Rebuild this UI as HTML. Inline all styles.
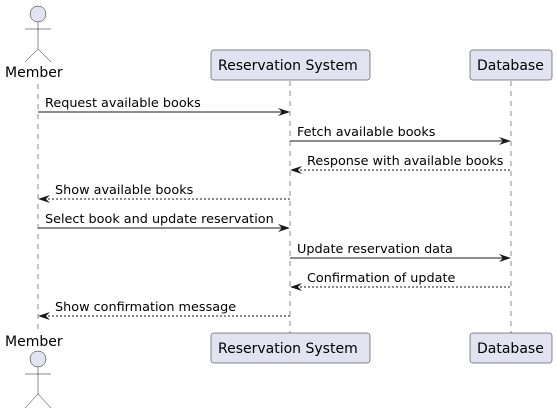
<!DOCTYPE html>
<html><head><style>body{margin:0;background:#fff}</style></head><body>
<svg width="557" height="414" xmlns="http://www.w3.org/2000/svg" font-family="'DejaVu Sans', 'Liberation Sans', sans-serif" font-size="12.8">
<g stroke="#181818" stroke-width="0.5" stroke-dasharray="5,5">
<line x1="38" y1="84" x2="38" y2="333"/>
<line x1="290" y1="81" x2="290" y2="333"/>
<line x1="511" y1="81" x2="511" y2="333"/>
</g>
<g fill="#E2E2F0" stroke="#181818" stroke-width="0.5">
<circle cx="38" cy="14" r="8"/>
<circle cx="38" cy="359" r="8"/>
<rect x="211" y="50" width="159" height="30" rx="2.5"/>
<rect x="470" y="50" width="82" height="30" rx="2.5"/>
<rect x="211" y="333" width="159" height="30" rx="2.5"/>
<rect x="470" y="333" width="82" height="30" rx="2.5"/>
</g>
<g stroke="#181818" stroke-width="0.5" fill="none">
<path d="M38 22V49M25 29H51M25 62L38 49L51 62"/>
<path d="M38 367V394M25 374H51M25 408L38 394L51 408"/>
</g>
<g fill="#000" font-size="14">
<text x="5" y="77">Member</text>
<text x="5" y="346">Member</text>
<text x="218" y="70">Reservation System</text>
<text x="477" y="70">Database</text>
<text x="218" y="353">Reservation System</text>
<text x="477" y="353">Database</text>
</g>
<g stroke="#181818" stroke-width="1">
<line x1="38" y1="112" x2="288" y2="112"/>
<line x1="290" y1="141" x2="509" y2="141"/>
<line x1="292" y1="170" x2="511" y2="170" stroke-dasharray="2,2"/>
<line x1="40" y1="199" x2="290" y2="199" stroke-dasharray="2,2"/>
<line x1="38" y1="228" x2="288" y2="228"/>
<line x1="290" y1="258" x2="509" y2="258"/>
<line x1="292" y1="287" x2="511" y2="287" stroke-dasharray="2,2"/>
<line x1="40" y1="316" x2="290" y2="316" stroke-dasharray="2,2"/>
</g>
<g fill="#181818">
<path d="M278 108L290 112L278 116L282 112Z"/>
<path d="M499 137L511 141L499 145L503 141Z"/>
<path d="M302 166L290 170L302 174L298 170Z"/>
<path d="M50 195L38 199L50 203L46 199Z"/>
<path d="M278 224L290 228L278 232L282 228Z"/>
<path d="M499 254L511 258L499 262L503 258Z"/>
<path d="M302 283L290 287L302 291L298 287Z"/>
<path d="M50 312L38 316L50 320L46 316Z"/>
</g>
<g fill="#000">
<text x="45" y="107">Request available books</text>
<text x="297" y="136">Fetch available books</text>
<text x="307" y="165">Response with available books</text>
<text x="55" y="194">Show available books</text>
<text x="45" y="223">Select book and update reservation</text>
<text x="297" y="253">Update reservation data</text>
<text x="307" y="282">Confirmation of update</text>
<text x="55" y="311">Show confirmation message</text>
</g>
</svg>
</body></html>
